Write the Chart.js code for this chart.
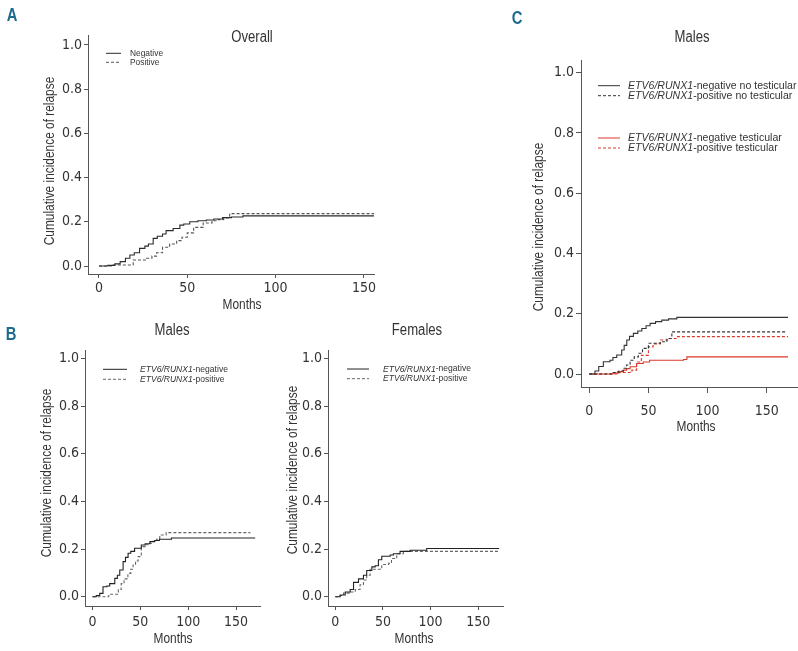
<!DOCTYPE html>
<html>
<head>
<meta charset="utf-8">
<title>Cumulative incidence of relapse</title>
<script src="https://cdn.jsdelivr.net/npm/chart.js@4.4.1/dist/chart.umd.min.js"></script>
<style>
  body { margin: 0; background: #fff; }
  #wrap { position: relative; width: 798px; height: 651px; }
  #wrap canvas { position: absolute; left: 0; top: 0; }
</style>
</head>
<body>
<div id="wrap">
  <canvas id="chartA" width="798" height="651"></canvas>
  <canvas id="chartBm" width="798" height="651"></canvas>
  <canvas id="chartBf" width="798" height="651"></canvas>
  <canvas id="chartC" width="798" height="651"></canvas>
</div>
<script>
const TICK_FONT = "'DejaVu Sans Condensed', 'Liberation Sans Narrow', sans-serif";
// plugin text uses Liberation Sans squeezed horizontally to look like a narrow face
const TEXT_FONT = "'Liberation Sans', Arial, sans-serif";
const SQUEEZE = 0.82;

// tick labels
const monthTicks = [0, 50, 100, 150];
const cirTicks = [0, 0.2, 0.4, 0.6, 0.8, 1.0];

// A - overall
const overallNegMonths = [0, 5, 9, 12, 15, 17.5, 20, 23, 26, 28, 30.7, 33, 36, 38, 42, 45.8, 48, 51.4, 56, 60.8, 65, 70, 75, 81.5, 156];
const overallNegCir = [0, 0.003, 0.01, 0.02, 0.035, 0.05, 0.06, 0.08, 0.09, 0.1, 0.125, 0.135, 0.145, 0.16, 0.17, 0.185, 0.19, 0.2, 0.205, 0.208, 0.213, 0.219, 0.222, 0.227, 0.227];
const overallPosMonths = [0, 8, 19.4, 27, 30, 32.6, 36, 40, 44, 47, 50, 53.6, 59, 64, 67, 70.6, 74, 156];
const overallPosCir = [0, 0.005, 0.027, 0.035, 0.045, 0.06, 0.085, 0.1, 0.115, 0.13, 0.15, 0.175, 0.195, 0.205, 0.21, 0.218, 0.237, 0.237];

// B - males
const malesNegMonths = [0, 4, 7.6, 11, 15, 18, 23.3, 26, 28.5, 32, 34.5, 37.2, 40, 44, 51, 55, 60, 65, 70, 82.5, 170];
const malesNegCir = [0, 0.005, 0.014, 0.042, 0.045, 0.055, 0.077, 0.09, 0.112, 0.147, 0.165, 0.182, 0.19, 0.203, 0.217, 0.222, 0.231, 0.236, 0.241, 0.246, 0.246];
const malesPosMonths = [0, 17, 27, 30, 33, 37, 40, 42.4, 45, 47.7, 51, 55, 58, 63, 67, 70.3, 77, 165];
const malesPosCir = [0, 0.01, 0.03, 0.055, 0.075, 0.098, 0.115, 0.133, 0.15, 0.168, 0.21, 0.218, 0.224, 0.232, 0.241, 0.259, 0.269, 0.269];

// B - females
const femalesNegMonths = [0, 5.2, 10.5, 15.7, 19.2, 24.4, 29.6, 33, 38.4, 41.9, 45.3, 48.8, 57.6, 61, 68, 78.5, 96, 172];
const femalesNegCir = [0, 0.007, 0.02, 0.03, 0.06, 0.075, 0.09, 0.11, 0.125, 0.13, 0.155, 0.17, 0.175, 0.18, 0.19, 0.195, 0.202, 0.202];
const femalesPosMonths = [0, 5, 8.7, 15.7, 21, 26, 29.6, 33, 36.6, 45, 48.8, 56, 59, 64.5, 71.5, 85.5, 172];
const femalesPosCir = [0, 0.005, 0.015, 0.02, 0.03, 0.05, 0.07, 0.09, 0.115, 0.115, 0.135, 0.14, 0.16, 0.18, 0.19, 0.19, 0.19];

// C - males by testicular involvement
const noTestNegMonths = [0, 4.8, 8, 11.9, 17.5, 20, 23.2, 27.4, 29.5, 31.7, 34, 37.3, 41, 44.4, 48, 51.4, 56, 61.3, 67, 74, 168];
const noTestNegCir = [0, 0.01, 0.025, 0.041, 0.046, 0.055, 0.063, 0.08, 0.095, 0.113, 0.125, 0.135, 0.143, 0.151, 0.16, 0.168, 0.174, 0.179, 0.183, 0.188, 0.188];
const noTestPosMonths = [0, 20.3, 25, 28.8, 31.5, 34.5, 38, 41.5, 45, 50, 60, 65.6, 69.8, 166];
const noTestPosCir = [0, 0.005, 0.01, 0.019, 0.03, 0.046, 0.057, 0.069, 0.085, 0.102, 0.107, 0.118, 0.14, 0.14];
const testNegMonths = [0, 20, 24, 28.8, 31.5, 34.5, 40, 45.6, 51, 79.7, 82.5, 168];
const testNegCir = [0, 0.003, 0.008, 0.013, 0.018, 0.024, 0.035, 0.04, 0.046, 0.048, 0.057, 0.057];
const testPosMonths = [0, 25, 34.5, 36, 40, 44, 50, 54, 60, 67, 74, 168];
const testPosCir = [0, 0.005, 0.01, 0.013, 0.04, 0.062, 0.09, 0.1, 0.113, 0.118, 0.124, 0.124];

const RED = '#dc3a2a';

const stepPoints = (months, cir) => months.map((m, i) => ({ x: m, y: cir[i] }));

function series(label, months, cir, color, dash) {
  return {
    label: label,
    data: stepPoints(months, cir),
    borderColor: color,
    borderWidth: 1.1,
    borderDash: dash || [],
    stepped: 'before',
    pointRadius: 0,
    fill: false
  };
}

// draws text squeezed horizontally, returns drawn width
function narrowText(ctx, text, x, y, rot, sq) {
  const k = sq || SQUEEZE;
  ctx.save();
  ctx.translate(x, y);
  if (rot) ctx.rotate(rot);
  ctx.scale(k, 1);
  ctx.fillText(text, 0, 0);
  const w = ctx.measureText(text).width * k;
  ctx.restore();
  return w;
}

// titles, axis labels, panel letter and legend drawn on the canvas
const panelText = {
  id: 'panelText',
  afterDraw(chart, args, o) {
    const ctx = chart.ctx;
    ctx.save();
    ctx.textBaseline = 'middle';
    ctx.textAlign = 'center';
    if (o.letter) {
      ctx.font = `bold 18px ${TEXT_FONT}`;
      ctx.fillStyle = '#1c6b8f';
      narrowText(ctx, o.letter.text, o.letter.x, o.letter.y);
    }
    ctx.fillStyle = '#333';
    ctx.font = `16px ${TEXT_FONT}`;
    narrowText(ctx, o.title.text, o.title.x, o.title.y);
    ctx.font = `14.5px ${TEXT_FONT}`;
    narrowText(ctx, 'Months', o.xlabel.x, o.xlabel.y);
    narrowText(ctx, 'Cumulative incidence of relapse', o.ylabel.x, o.ylabel.y, -Math.PI / 2);

    const lg = o.legend;
    ctx.textAlign = 'left';
    chart.data.datasets.forEach((ds, i) => {
      const y = lg.rows[i];
      ctx.save();
      ctx.strokeStyle = ds.borderColor;
      ctx.lineWidth = 1;
      ctx.setLineDash(ds.borderDash);
      ctx.beginPath();
      ctx.moveTo(lg.x0, y);
      ctx.lineTo(lg.x1, y);
      ctx.stroke();
      ctx.restore();
      let x = lg.tx;
      ctx.fillStyle = '#333';
      if (lg.italic && ds.label.startsWith(lg.italic)) {
        ctx.font = `italic ${lg.size}px ${TEXT_FONT}`;
        x += narrowText(ctx, lg.italic, x, y, 0, lg.sq);
        ctx.font = `${lg.size}px ${TEXT_FONT}`;
        narrowText(ctx, ds.label.slice(lg.italic.length), x, y, 0, lg.sq);
      } else {
        ctx.font = `${lg.size}px ${TEXT_FONT}`;
        narrowText(ctx, ds.label, x, y, 0, lg.sq);
      }
    });
    ctx.restore();
  }
};

function makePanel(id, p, datasets) {
  const Y_W = 40, X_H = 30;
  return new Chart(document.getElementById(id), {
    type: 'line',
    data: { datasets: datasets },
    options: {
      responsive: false,
      animation: false,
      events: [],
      layout: {
        padding: { left: p.box.l - Y_W, top: p.box.t, right: 798 - p.box.r, bottom: 651 - p.box.b - X_H }
      },
      scales: {
        x: {
          type: 'linear',
          min: p.xmin, max: p.xmax,
          afterBuildTicks: s => { s.ticks = monthTicks.map(v => ({ value: v })); },
          afterFit: s => { s.height = X_H; },
          ticks: { color: '#333', font: { family: TICK_FONT, size: 14 }, padding: p.xPad, maxRotation: 0 },
          grid: { drawOnChartArea: false, drawTicks: true, tickLength: p.xTick, color: '#555' },
          border: { display: true, color: '#555', width: 1 }
        },
        y: {
          type: 'linear',
          min: p.ymin, max: p.ymax,
          afterBuildTicks: s => { s.ticks = cirTicks.map(v => ({ value: v })); },
          afterFit: s => { s.width = Y_W; },
          ticks: { color: '#333', font: { family: TICK_FONT, size: 14 }, padding: p.yPad, callback: v => v.toFixed(1) },
          grid: { drawOnChartArea: false, drawTicks: true, tickLength: p.yTick, color: '#555' },
          border: { display: true, color: '#555', width: 1 }
        }
      },
      plugins: {
        legend: { display: false },
        tooltip: { enabled: false },
        panelText: p.text
      }
    },
    plugins: [panelText]
  });
}

makePanel('chartA', {
  box: { l: 88, t: 35, r: 374, b: 274 },
  xmin: -6.2, xmax: 155.7, ymin: -0.036, ymax: 1.045,
  xTick: 4, xPad: 2, yTick: 4, yPad: 2,
  text: {
    letter: { text: 'A', x: 12, y: 16 },
    title: { text: 'Overall', x: 252, y: 38 },
    xlabel: { x: 242, y: 305 },
    ylabel: { x: 50, y: 161 },
    legend: { x0: 106, x1: 121, tx: 130, size: 9, sq: 0.93, rows: [53.3, 62.3] }
  }
}, [
  series('Negative', overallNegMonths, overallNegCir, '#2b2b2b'),
  series('Positive', overallPosMonths, overallPosCir, '#555', [3, 2])
]);

makePanel('chartBm', {
  box: { l: 85, t: 350, r: 260, b: 606 },
  xmin: -7.8, xmax: 175, ymin: -0.039, ymax: 1.035,
  xTick: 4, xPad: 4, yTick: 4, yPad: 2,
  text: {
    letter: { text: 'B', x: 11, y: 335 },
    title: { text: 'Males', x: 172, y: 331 },
    xlabel: { x: 173, y: 639 },
    ylabel: { x: 47, y: 473 },
    legend: { x0: 103, x1: 127, tx: 140, size: 9, sq: 0.95, italic: 'ETV6/RUNX1', rows: [369.3, 379.3] }
  }
}, [
  series('ETV6/RUNX1-negative', malesNegMonths, malesNegCir, '#222'),
  series('ETV6/RUNX1-positive', malesPosMonths, malesPosCir, '#666', [3, 2])
]);

makePanel('chartBf', {
  box: { l: 328, t: 350, r: 503, b: 606 },
  xmin: -7.6, xmax: 176, ymin: -0.039, ymax: 1.035,
  xTick: 4, xPad: 4, yTick: 4, yPad: 2,
  text: {
    title: { text: 'Females', x: 417, y: 331 },
    xlabel: { x: 414, y: 639 },
    ylabel: { x: 293, y: 470 },
    legend: { x0: 347, x1: 369, tx: 383, size: 9, sq: 0.95, italic: 'ETV6/RUNX1', rows: [369, 378.7] }
  }
}, [
  series('ETV6/RUNX1-negative', femalesNegMonths, femalesNegCir, '#222'),
  series('ETV6/RUNX1-positive', femalesPosMonths, femalesPosCir, '#666', [3, 2])
]);

makePanel('chartC', {
  box: { l: 581, t: 60, r: 797, b: 387 },
  xmin: -7.0, xmax: 175.6, ymin: -0.043, ymax: 1.042,
  xTick: 6, xPad: 10, yTick: 5, yPad: 2,
  text: {
    letter: { text: 'C', x: 517, y: 19 },
    title: { text: 'Males', x: 692, y: 38 },
    xlabel: { x: 696, y: 427 },
    ylabel: { x: 539, y: 227 },
    legend: { x0: 598, x1: 620, tx: 628, size: 11, sq: 0.96, italic: 'ETV6/RUNX1', rows: [85.7, 95.7, 138, 148] }
  }
}, [
  series('ETV6/RUNX1-negative no testicular', noTestNegMonths, noTestNegCir, '#333'),
  series('ETV6/RUNX1-positive no testicular', noTestPosMonths, noTestPosCir, '#333', [3, 2]),
  series('ETV6/RUNX1-negative testicular', testNegMonths, testNegCir, RED),
  series('ETV6/RUNX1-positive testicular', testPosMonths, testPosCir, RED, [3, 2])
]);
</script>
</body>
</html>
